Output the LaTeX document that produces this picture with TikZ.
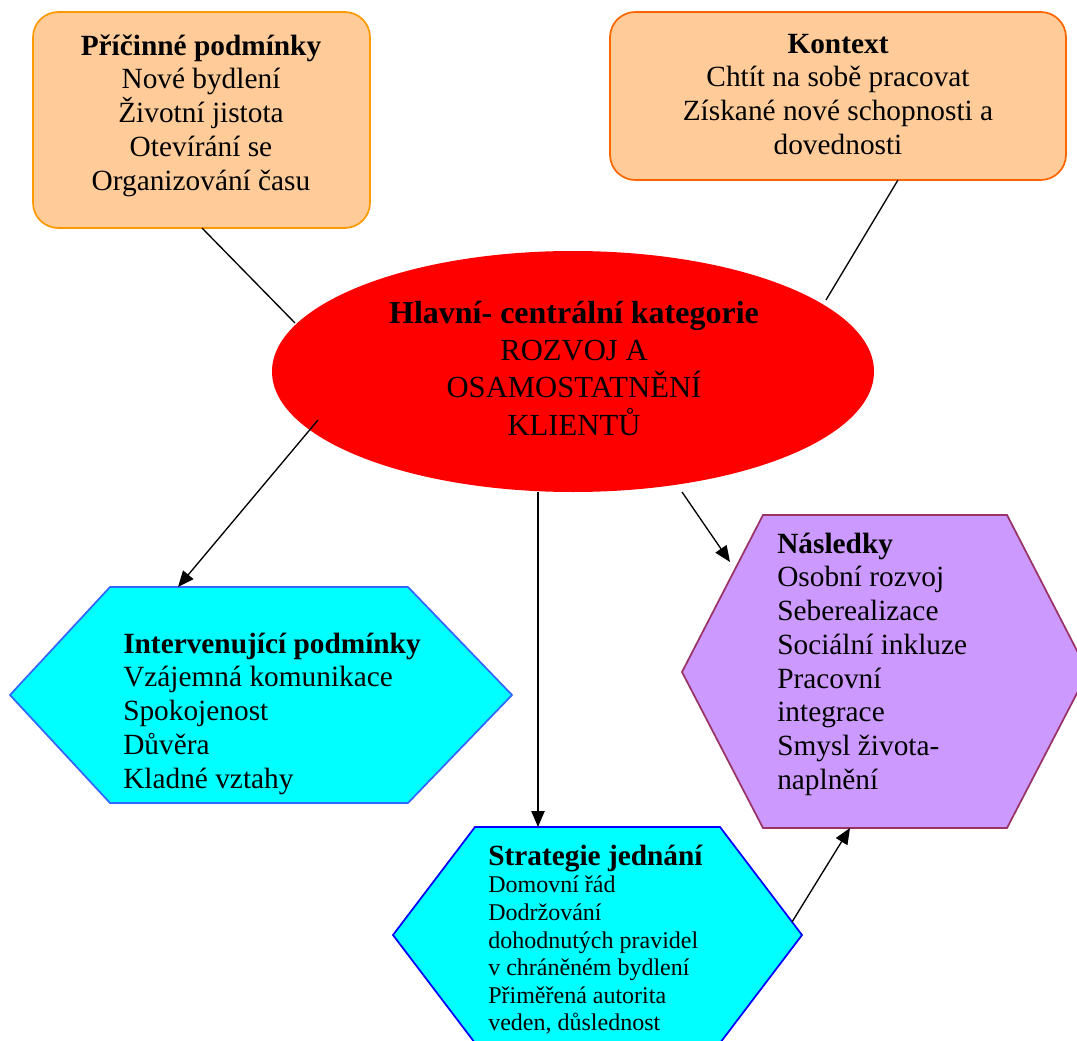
\documentclass[tikz,border=0pt]{standalone}
\usepackage{fontspec}
\setmainfont{Liberation Serif}
\usetikzlibrary{arrows.meta,shapes.geometric}
\definecolor{peach}{HTML}{FFCC99}
\definecolor{borderA}{HTML}{FF9900}
\definecolor{borderB}{HTML}{FF6600}
\definecolor{hexblueA}{HTML}{3366FF}
\definecolor{hexblueB}{HTML}{0000FF}
\definecolor{aqua}{HTML}{00FFFF}
\definecolor{lilac}{HTML}{CC99FF}
\definecolor{plum}{HTML}{993366}
\definecolor{pure red}{HTML}{FF0000}
\begin{document}
\begin{tikzpicture}[x=0.75pt,y=-0.75pt,
  boxstyle/.style={draw, fill=peach, line width=1.3pt, rounded corners=19pt, inner sep=0pt},
  txt/.style={inner sep=0pt, anchor=north, font=\fontsize{22}{25.3}\selectfont},
  conn/.style={line width=1pt, black},
  arr/.style={conn, -{Triangle[length=12pt,width=10pt]}},
  hexc/.style={fill=aqua, line width=1.3pt, line join=miter},
  hexp/.style={fill=lilac, draw=plum, line width=1.3pt}
]
\useasboundingbox (0,0) rectangle (1077,1041);
\clip (0,0) rectangle (1077,1041);

% top boxes
\node[boxstyle, draw=borderA, minimum width=252.75pt, minimum height=162pt] (pric) at (201.5,120) {};
\node[boxstyle, draw=borderB, minimum width=342pt, minimum height=126pt] (kont) at (838,96) {};

\node[txt, align=center] (prict) at (201,28.3) {\rule{0pt}{20pt}\textbf{Příčinné podmínky}\\Nové bydlení\\Životní jistota\\Otevírání se\\Organizování času};
\node[txt, align=center] (kontt) at (838,26.3) {\rule{0pt}{20pt}\textbf{Kontext}\\Chtít na sobě pracovat\\Získané nové schopnosti a\\dovednosti};

% central ellipse
\node[draw=none, fill=pure red, ellipse, minimum width=451.5pt, minimum height=180.75pt, inner sep=0pt] (hl) at (573,371.5) {};
\node[txt, align=center, font=\fontsize{23}{28}\selectfont] (hlt) at (574,296.3) {\rule{0pt}{20pt}{\fontsize{24}{28}\selectfont\bfseries Hlavní- centrální kategorie}\\ROZVOJ A\\OSAMOSTATNĚNÍ\\KLIENTŮ};

% hexagons
\draw[hexc, draw=hexblueA] (10,695) -- (110,587) -- (408,587) -- (512,695) -- (408,803) -- (110,803) -- cycle;
\draw[hexc, draw=hexblueB] (393,935) -- (475,827) -- (720,827) -- (802,935) -- (720,1043) -- (475,1043) -- cycle;
\draw[hexp] (682,672) -- (763,515) -- (1007,515) -- (1088,672) -- (1007,828) -- (763,828) -- cycle;

\node[txt, anchor=north west, align=left] (intt) at (123,626.3) {\rule{0pt}{20pt}\textbf{Intervenující podmínky}\\Vzájemná komunikace\\Spokojenost\\Důvěra\\Kladné vztahy};
\node[txt, anchor=north west, align=left, font=\fontsize{18}{20.7}\selectfont] (strt) at (488,838.3) {\rule{0pt}{20pt}{\fontsize{22}{20.7}\selectfont\bfseries Strategie jednání}\\Domovní řád\\Dodržování\\dohodnutých pravidel\\v chráněném bydlení\\Přiměřená autorita\\veden, důslednost};
\node[txt, anchor=north west, align=left] (nast) at (777,526.3) {\rule{0pt}{20pt}\textbf{Následky}\\Osobní rozvoj\\Seberealizace\\Sociální inkluze\\Pracovní\\integrace\\Smysl života-\\naplnění};

% connector end points
\coordinate (a1) at (202,228);
\coordinate (a2) at (295,323);
\coordinate (b1) at (898,180);
\coordinate (b2) at (826,300);
\coordinate (c1) at (318,420);
\coordinate (c2) at (178,587);
\coordinate (d1) at (538,492);
\coordinate (d2) at (538,827);
\coordinate (e1) at (682,492);
\coordinate (e2) at (730,562);
\coordinate (f1) at (792,922);
\coordinate (f2) at (850,828);

\draw[conn] (a1) -- (a2);
\draw[conn] (b1) -- (b2);
\draw[arr] (c1) -- (c2);
\draw[arr] (d1) -- (d2);
\draw[arr] (e1) -- (e2);
\draw[arr] (f1) -- (f2);
\end{tikzpicture}
\end{document}
